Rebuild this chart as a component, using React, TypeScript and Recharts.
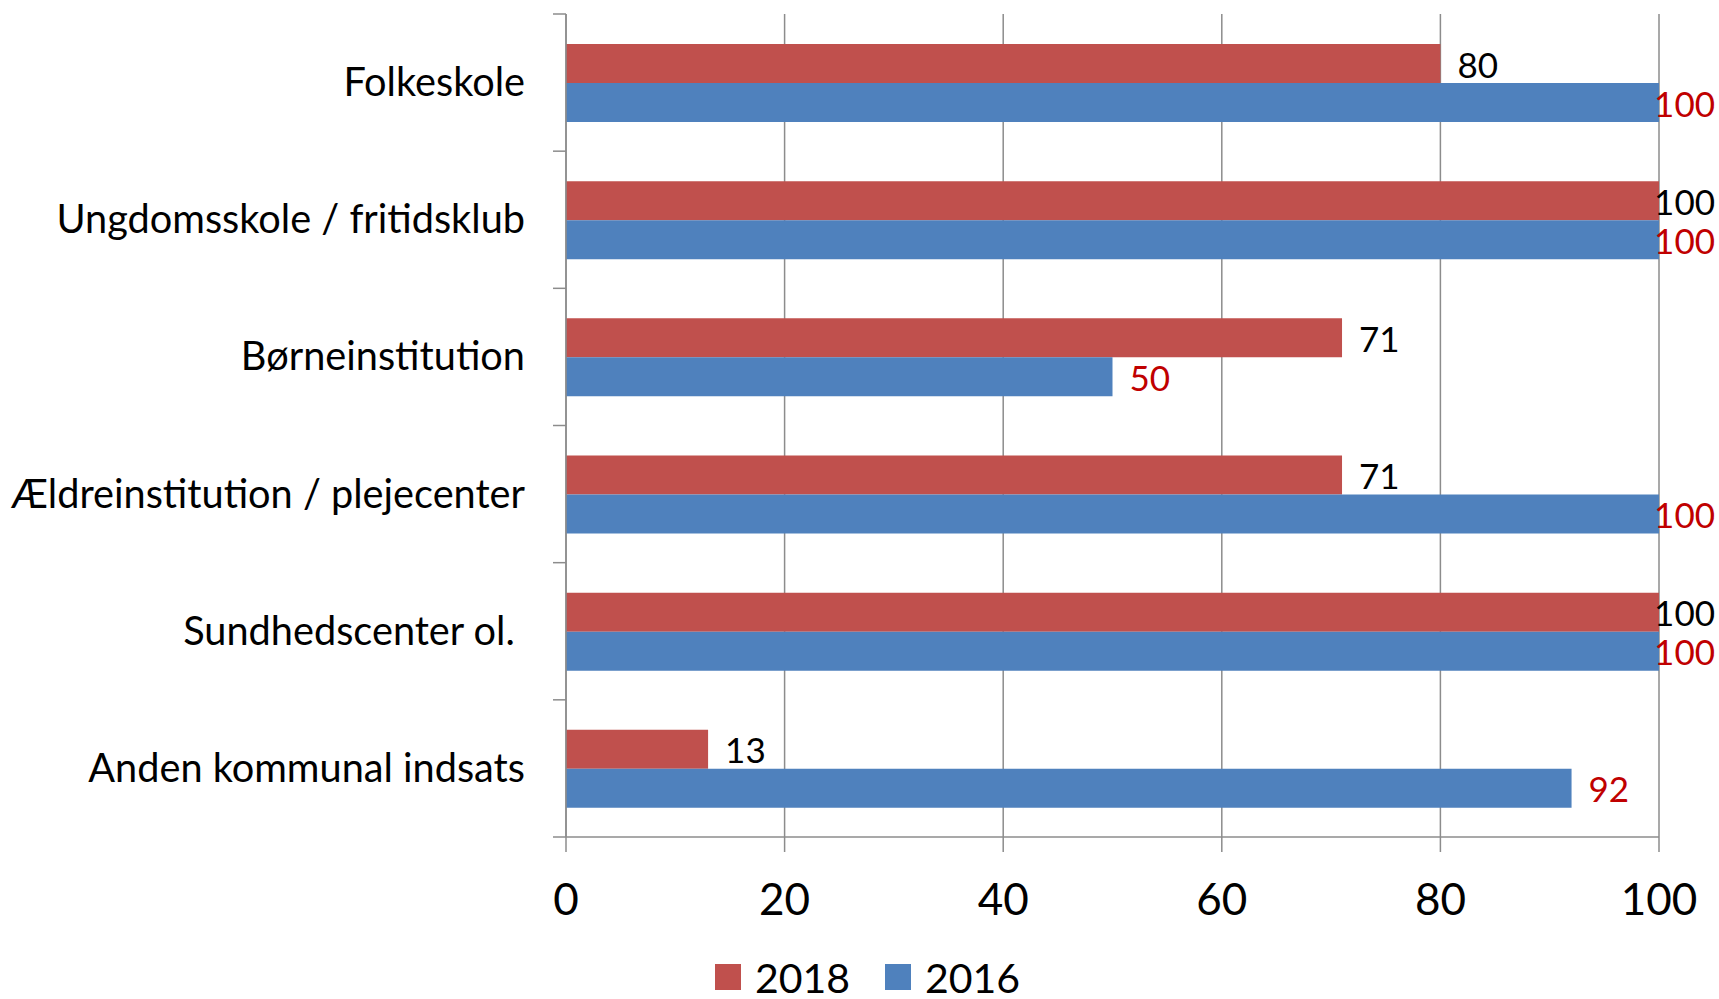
import React from 'react';
import {
  BarChart,
  Bar,
  XAxis,
  YAxis,
  CartesianGrid,
  Legend,
  LabelList
} from 'recharts';

const categories = [
  'Folkeskole',
  'Ungdomsskole / fritidsklub',
  'Børneinstitution',
  'Ældreinstitution / plejecenter',
  'Sundhedscenter ol.\u00A0',
  'Anden kommunal indsats'
];
const values2018 = [80, 100, 71, 71, 100, 13];
const values2016 = [100, 100, 50, 100, 100, 92];
const xTicks = [0, 20, 40, 60, 80, 100];
const legendOrder = ['2018', '2016'];

const data = categories.map((name, i) => ({
  name,
  y2018: values2018[i],
  y2016: values2016[i]
}));

const W = 1719;
const H = 999;
const MARGIN = { top: 14, right: 60, left: 0, bottom: 0 };
const Y_AXIS_W = 566;
const X_AXIS_H = 102;
const LEGEND_H = 60;
const FONT = 'Lato, "Open Sans", sans-serif';
const GRID = '#8c8c8c';
const RED = '#C0504D';
const BLUE = '#4F81BD';

const plotH = H - MARGIN.top - MARGIN.bottom - X_AXIS_H - LEGEND_H;
const halfBand = plotH / categories.length / 2;

const CategoryTick = (props: any) => {
  const { x, y, payload, index } = props;
  const axisX = x + 41;
  return (
    <g>
      <line x1={axisX - 13} x2={axisX} y1={y - halfBand} y2={y - halfBand} stroke={GRID} strokeWidth={1.5} />
      {index === categories.length - 1 && (
        <line x1={axisX - 13} x2={axisX} y1={y + halfBand} y2={y + halfBand} stroke={GRID} strokeWidth={1.5} />
      )}
      <text x={x} y={y - 2} textAnchor="end" dominantBaseline="central" fontSize={39.7} fontFamily={FONT} fill="#000">
        {payload.value}
      </text>
    </g>
  );
};

const makeLabel = (color: string) => (props: any) => {
  const { x, y, width, height, value } = props;
  const end = x + width;
  const fits = W - end > 80;
  return (
    <text
      x={fits ? end + 17 : W - 4}
      y={y + height / 2}
      textAnchor={fits ? 'start' : 'end'}
      dominantBaseline="central"
      fontSize={35}
      fontFamily={FONT}
      fill={color}
    >
      {value}
    </text>
  );
};

const LegendContent = (props: any) => {
  const items = [...(props.payload || [])].sort(
    (a: any, b: any) => legendOrder.indexOf(a.value) - legendOrder.indexOf(b.value)
  );
  return (
    <div
      style={{
        height: LEGEND_H,
        boxSizing: 'border-box',
        paddingTop: 16,
        paddingLeft: 76,
        display: 'flex',
        justifyContent: 'center',
        alignItems: 'center',
        fontFamily: FONT,
        fontSize: 41,
        lineHeight: 1
      }}
    >
      {items.map((entry: any, i: number) => (
        <div key={i} style={{ display: 'flex', alignItems: 'center', marginLeft: i === 0 ? 0 : 35 }}>
          <span style={{ width: 26, height: 26, background: entry.color, display: 'inline-block', marginRight: 14 }} />
          <span style={{ color: '#000' }}>{entry.value}</span>
        </div>
      ))}
    </div>
  );
};

export default function App() {
  return (
    <div style={{ position: 'absolute', left: 0, top: 0, width: W, height: H, background: '#fff' }}>
      <BarChart width={W} height={H} data={data} layout="vertical" margin={MARGIN} barGap={0}>
        <CartesianGrid horizontal={false} stroke={GRID} strokeWidth={1.5} />
        <XAxis
          type="number"
          domain={[0, 100]}
          ticks={xTicks}
          height={X_AXIS_H}
          tickSize={15}
          tickMargin={32}
          stroke={GRID}
          axisLine={{ stroke: GRID, strokeWidth: 1.5 }}
          tickLine={{ stroke: GRID, strokeWidth: 1.5 }}
          tick={{ fill: '#000', fontSize: 44, fontFamily: FONT }}
        />
        <YAxis
          type="category"
          dataKey="name"
          width={Y_AXIS_W}
          tickSize={0}
          tickMargin={41}
          axisLine={{ stroke: GRID, strokeWidth: 1.5 }}
          tickLine={false}
          tick={<CategoryTick />}
          interval={0}
        />
        <Legend verticalAlign="bottom" height={LEGEND_H} content={<LegendContent />} />
        <Bar dataKey="y2018" name="2018" fill={RED} barSize={39} isAnimationActive={false}>
          <LabelList dataKey="y2018" content={makeLabel('#000')} />
        </Bar>
        <Bar dataKey="y2016" name="2016" fill={BLUE} barSize={39} isAnimationActive={false}>
          <LabelList dataKey="y2016" content={makeLabel('#C00000')} />
        </Bar>
      </BarChart>
    </div>
  );
}
